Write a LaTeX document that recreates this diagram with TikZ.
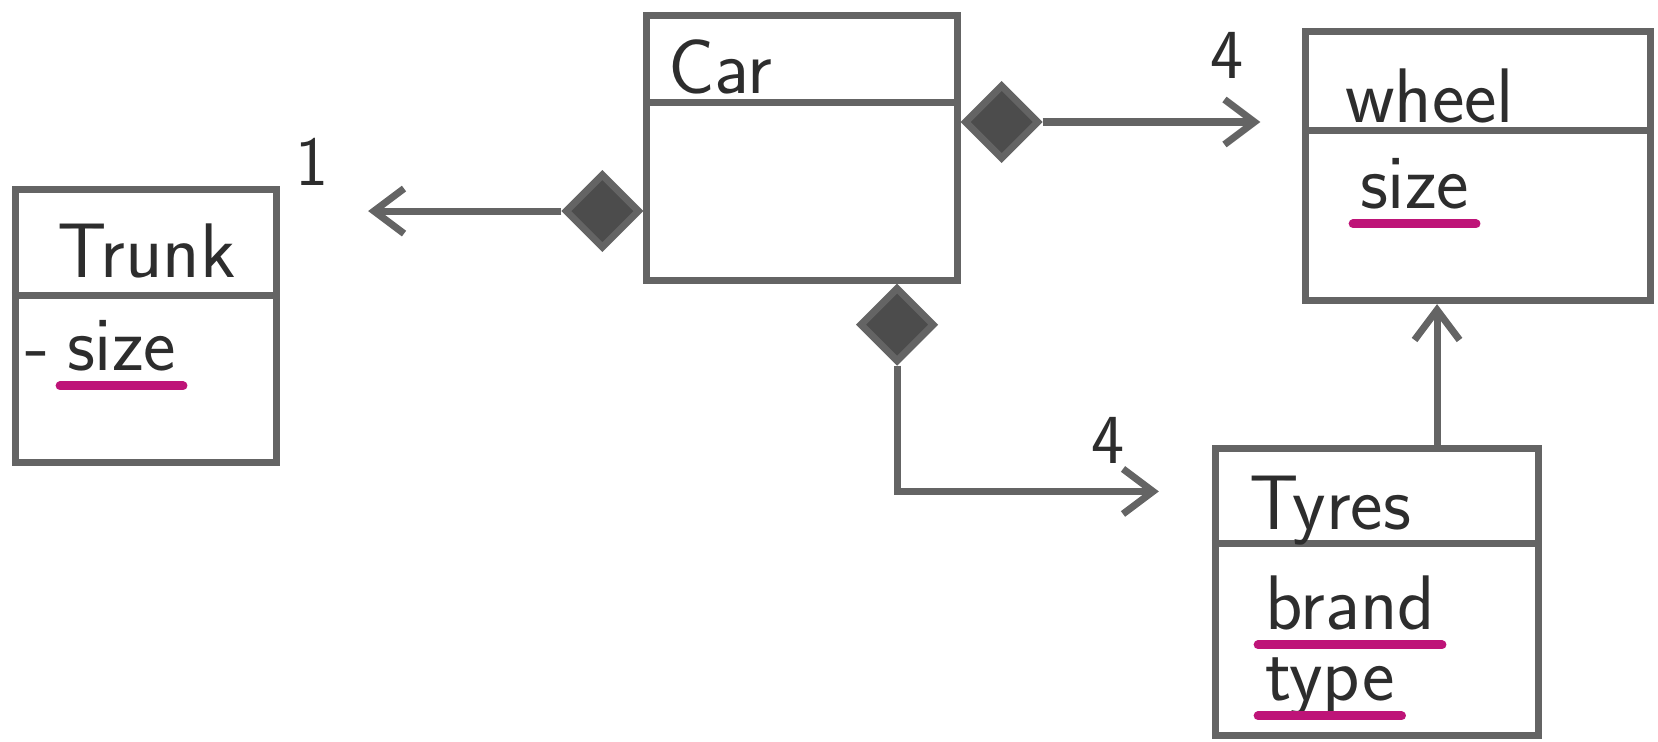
\documentclass[tikz,border=0pt]{standalone}
\usepackage{xcolor}
\usepackage{tikz}
\usetikzlibrary{arrows.meta, positioning, shapes.geometric}

\definecolor{pencil}{RGB}{100,100,100}
\definecolor{lead}{RGB}{45,45,45}
\definecolor{marker}{RGB}{190,20,120}

\begin{document}
\begin{tikzpicture}[x=0.01cm, y=-0.01cm, line width=2pt, every node/.style={font=\sffamily\fontsize{22}{26}\selectfont, text=lead}]
        \useasboundingbox (0,0) rectangle (1658,741);
        \tikzset{
            classbox/.style={draw=pencil, rectangle, inner sep=0pt},
            sepline/.style={draw=pencil, line width=2pt},
            attr/.style={anchor=base west, inner sep=1pt},
            uline/.style={draw=marker, line width=2.5pt, line cap=round},
            comp/.style={draw=pencil, fill=lead!85!white, diamond, aspect=1, minimum width=0.75cm, minimum height=0.75cm, inner sep=0pt},
            assoc/.style={draw=pencil, -{Straight Barb[length=3mm, width=4.5mm]}},
            mult/.style={font=\sffamily\fontsize{20}{24}\selectfont}
        }

        % classes
        \node (trunk) [classbox, minimum width=2.61cm, minimum height=2.72cm] at (146,326) {};
        \node (car) [classbox, minimum width=3.10cm, minimum height=2.64cm] at (802,148) {};
        \node (wheel) [classbox, minimum width=3.44cm, minimum height=2.69cm] at (1478,166) {};
        \node (tyres) [classbox, minimum width=3.23cm, minimum height=2.86cm] at (1377,592) {};

        \draw[sepline] ([yshift=-1.09cm]trunk.north west) -- ([yshift=-1.09cm]trunk.north east);
        \draw[sepline] ([yshift=-0.90cm]car.north west) -- ([yshift=-0.90cm]car.north east);
        \draw[sepline] ([yshift=-1.03cm]wheel.north west) -- ([yshift=-1.03cm]wheel.north east);
        \draw[sepline] ([yshift=-0.98cm]tyres.north west) -- ([yshift=-0.98cm]tyres.north east);

        \node (trunktitle) [attr] at (50,277) {Trunk};
        \node (cartitle) [attr] at (661,93) {Car};
        \node (wheeltitle) [attr] at (1338,122) {wheel};
        \node (tyrestitle) [attr] at (1242,529) {Tyres};

        \node (trunkdash) [attr] at (18,370) {-};
        \node (trunksize) [attr] at (60,370) {size};
        \node (wheelsize) [attr] at (1353,208) {size};
        \node (brand) [attr] at (1258,629) {brand};
        \node (type) [attr] at (1258,700) {type};

        \draw[uline] ([yshift=-4.5pt]trunksize.base west) -- ([yshift=-4.5pt]trunksize.base east);
        \draw[uline] ([yshift=-4.5pt]wheelsize.base west) -- ([yshift=-4.5pt]wheelsize.base east);
        \draw[uline] ([yshift=-4.5pt]brand.base west) -- ([yshift=-4.5pt]brand.base east);
        \draw[uline] ([yshift=-4.5pt]type.base west) -- ([yshift=-4.5pt]type.base east);

        % compositions
        \node (dtrunk) [comp, anchor=east] at ([yshift=-0.63cm]car.west) {};
        \node (dwheel) [comp, anchor=west] at ([yshift=0.26cm]car.east) {};
        \node (dtyres) [comp, anchor=north] at ([xshift=0.95cm]car.south) {};

        \draw[assoc, shorten >=0.88cm] (dtrunk.west) -- (dtrunk.west -| trunk.east);
        \draw[assoc, shorten >=0.42cm] (dwheel.east) -- (dwheel.east -| wheel.west);
        \draw[assoc, shorten >=0.53cm] (dtyres.south) |- ([yshift=-0.46cm]tyres.north west);
        \draw[assoc] ([xshift=0.6cm]tyres.north) -- ([xshift=0.6cm]tyres.north |- wheel.south);

        \node (m1) [mult] at (312,162) {1};
        \node (m2) [mult] at (1227,55) {4};
        \node (m3) [mult] at (1108,440) {4};
    \end{tikzpicture}
\end{document}
